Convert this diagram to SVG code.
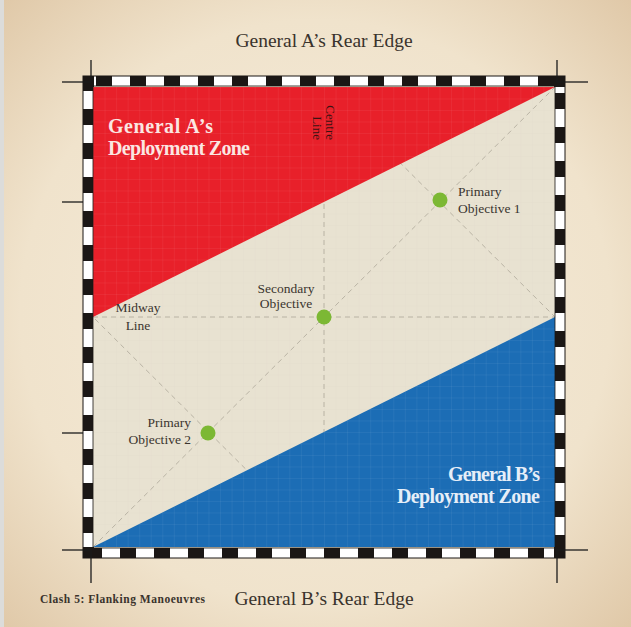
<svg xmlns="http://www.w3.org/2000/svg" width="631" height="627" viewBox="0 0 631 627">
<defs>
<radialGradient id="parch" cx="50%" cy="50%" r="72%">
<stop offset="0" stop-color="#f5ecdc"/>
<stop offset="0.65" stop-color="#f0e3cc"/>
<stop offset="1" stop-color="#dfc7a6"/>
</radialGradient>
<pattern id="grid" x="93" y="87" width="11.55" height="11.5" patternUnits="userSpaceOnUse">
<path d="M0 0H11.55M0 0V11.5" fill="none" stroke="#ffffff" stroke-width="0.6" stroke-opacity="0.16"/>
</pattern>
<pattern id="gridn" x="93" y="87" width="11.55" height="11.5" patternUnits="userSpaceOnUse">
<path d="M0 0H11.55M0 0V11.5" fill="none" stroke="#b8b2a4" stroke-width="0.5" stroke-opacity="0.2"/>
</pattern>
</defs>
<style>
.serif{font-family:"Liberation Serif","DejaVu Serif",serif}
.edge{font-size:19.5px;fill:#3a332c;text-anchor:middle}
.zone{font-size:20px;font-weight:bold}
.lbl{font-size:13.5px;fill:#3b352f}
.guide{fill:none;stroke:#b9b3a4;stroke-width:1;stroke-dasharray:5 4}
.cross{stroke:#1b1b1b;stroke-width:1.3}
.obj{fill:#7cb834}
</style>
<rect width="631" height="627" fill="url(#parch)"/>
<rect x="0" y="0" width="4" height="627" fill="#dcdcda"/>

<g id="board">
<rect x="93" y="87" width="462" height="460" fill="#e8e2d1"/>
<rect x="93" y="87" width="462" height="460" fill="url(#gridn)"/>
</g>

<g id="connectors">
<line class="guide" x1="93" y1="317" x2="555" y2="317"/>
<line class="guide" x1="324" y1="87" x2="324" y2="547"/>
<line class="guide" x1="93" y1="547" x2="555" y2="87"/>
<polygon class="guide" points="93,317 324,87 555,317 324,547"/>
</g>

<g id="zoneA">
<polygon points="93,87 555,87 93,317" fill="#e8202a"/>
<polygon points="93,87 555,87 93,317" fill="url(#grid)"/>
<text class="serif zone" fill="#fbe6e2" x="108" y="133" textLength="105">General A’s</text>
<text class="serif zone" fill="#fbe6e2" x="108" y="155" textLength="142">Deployment Zone</text>
</g>

<g id="zoneB">
<polygon points="555,317 555,547 93,547" fill="#1c6db5"/>
<polygon points="555,317 555,547 93,547" fill="url(#grid)"/>
<text class="serif zone" fill="#e6eef8" x="448" y="481" textLength="92">General B’s</text>
<text class="serif zone" fill="#e6eef8" x="397" y="503" textLength="143">Deployment Zone</text>
</g>

<g id="centreLine">
<text class="serif" font-size="13" fill="#3a1212" text-anchor="end" transform="translate(326,140) rotate(90)">Centre</text>
<text class="serif" font-size="13" fill="#3a1212" text-anchor="end" transform="translate(313,140) rotate(90)">Line</text>
</g>

<g id="midwayLine">
<text class="serif lbl" x="138" y="312" text-anchor="middle">Midway</text>
<text class="serif lbl" x="138" y="330" text-anchor="middle">Line</text>
</g>

<g id="primary1">
<circle class="obj" cx="440" cy="200" r="7.5"/>
<text class="serif lbl" x="458" y="196">Primary</text>
<text class="serif lbl" x="458" y="213">Objective 1</text>
</g>

<g id="secondary">
<circle class="obj" cx="324" cy="317" r="7.5"/>
<text class="serif lbl" x="286" y="293" text-anchor="middle">Secondary</text>
<text class="serif lbl" x="286" y="308" text-anchor="middle">Objective</text>
</g>

<g id="primary2">
<circle class="obj" cx="208" cy="433" r="7.5"/>
<text class="serif lbl" x="191" y="427" text-anchor="end">Primary</text>
<text class="serif lbl" x="191" y="444" text-anchor="end">Objective 2</text>
</g>

<g id="border">
<rect x="88" y="81" width="472" height="472" fill="none" stroke="#ffffff" stroke-width="10"/>
<rect x="88" y="81" width="472" height="472" fill="none" stroke="#1b1715" stroke-width="10" stroke-dasharray="16 18" stroke-dashoffset="-8"/>
<rect x="83" y="76" width="482" height="482" fill="none" stroke="#1b1715" stroke-width="1"/>
<rect x="93" y="86" width="462" height="462" fill="none" stroke="#1b1715" stroke-width="0.8"/>
<rect x="83" y="76" width="11" height="11" fill="#1b1715"/>
<rect x="554" y="76" width="11" height="11" fill="#1b1715"/>
<rect x="83" y="547" width="11" height="11" fill="#1b1715"/>
<rect x="554" y="547" width="11" height="11" fill="#1b1715"/>
</g>

<g id="crosshairs">
<line class="cross" x1="91" y1="60" x2="91" y2="82"/>
<line class="cross" x1="62" y1="82" x2="91" y2="82"/>
<line class="cross" x1="557" y1="60" x2="557" y2="82"/>
<line class="cross" x1="557" y1="82" x2="588" y2="82"/>
<line class="cross" x1="91" y1="550" x2="91" y2="583"/>
<line class="cross" x1="62" y1="550" x2="91" y2="550"/>
<line class="cross" x1="557" y1="550" x2="557" y2="583"/>
<line class="cross" x1="557" y1="550" x2="588" y2="550"/>
<line class="cross" x1="62" y1="202" x2="83" y2="202"/>
<line class="cross" x1="62" y1="433" x2="83" y2="433"/>
</g>

<g id="labels">
<text class="serif edge" x="324" y="47">General A’s Rear Edge</text>
<text class="serif edge" x="324" y="605">General B’s Rear Edge</text>
<text class="serif" font-size="11.5" font-weight="bold" fill="#3a332c" x="40" y="603" textLength="165">Clash 5: Flanking Manoeuvres</text>
</g>
</svg>
